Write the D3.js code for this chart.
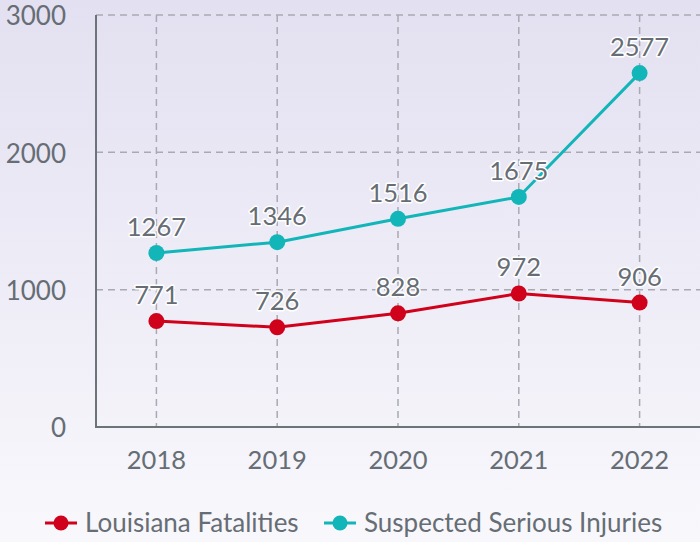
<!DOCTYPE html>
<html>
<head>
<meta charset="utf-8">
<script src="https://cdn.jsdelivr.net/npm/d3@7"></script>
<style>
  body { margin: 0; }
  svg { display: block; font-family: Lato, "Noto Sans", sans-serif; }
</style>
</head>
<body>
<script>
var years = ['2018', '2019', '2020', '2021', '2022'];
var fatalities = [771, 726, 828, 972, 906];
var injuries = [1267, 1346, 1516, 1675, 2577];
var yTicks = [0, 1000, 2000, 3000];
var seriesNames = ['Louisiana Fatalities', 'Suspected Serious Injuries'];
var colors = ['#d0021b', '#12b5b8'];

var W = 700, H = 542;
var svg = d3.select('body').append('svg').attr('width', W).attr('height', H);

// background gradient
var defs = svg.append('defs');
var grad = defs.append('linearGradient').attr('id', 'bg').attr('x1', 0).attr('y1', 0).attr('x2', 0).attr('y2', 1);
grad.append('stop').attr('offset', '0%').attr('stop-color', '#e3e0f1');
grad.append('stop').attr('offset', '100%').attr('stop-color', '#f8f8fc');
svg.append('rect').attr('width', W).attr('height', H).attr('fill', 'url(#bg)');

var x = d3.scaleBand().domain(years).range([96, 700]);
var y = d3.scaleLinear().domain([0, 3000]).range([427, 15]);

// grid
var grid = svg.append('g').attr('stroke', '#a9a9b3').attr('stroke-width', 1.5).attr('stroke-dasharray', '7,5');
grid.selectAll('.h').data(yTicks.filter(function(d){ return d > 0; })).enter().append('line')
  .attr('x1', 96).attr('x2', 700)
  .attr('y1', function(d){ return y(d); }).attr('y2', function(d){ return y(d); });
grid.selectAll('.v').data(years).enter().append('line')
  .attr('x1', function(d){ return x(d) + x.bandwidth() / 2; })
  .attr('x2', function(d){ return x(d) + x.bandwidth() / 2; })
  .attr('y1', 15).attr('y2', 427);

// axes
svg.append('line').attr('x1', 96).attr('x2', 96).attr('y1', 15).attr('y2', 427).attr('stroke', '#6b737b').attr('stroke-width', 2);
svg.append('line').attr('x1', 95).attr('x2', 700).attr('y1', 427).attr('y2', 427).attr('stroke', '#6b737b').attr('stroke-width', 2);

svg.selectAll('.ylab').data(yTicks).enter().append('text')
  .attr('x', 66).attr('y', function(d){ return y(d); }).attr('dy', '0.4em')
  .attr('text-anchor', 'end').attr('font-size', 26).attr('fill', '#666d74')
  .text(function(d){ return d; });

svg.selectAll('.xlab').data(years).enter().append('text')
  .attr('x', function(d){ return x(d) + x.bandwidth() / 2; }).attr('y', 460).attr('dy', '0.35em')
  .attr('text-anchor', 'middle').attr('font-size', 25.5).attr('fill', '#666d74')
  .text(function(d){ return d; });

var line = d3.line()
  .x(function(d, i){ return x(years[i]) + x.bandwidth() / 2; })
  .y(function(d){ return y(d); });

[fatalities, injuries].forEach(function(vals, s){
  var g = svg.append('g');
  g.append('path').attr('d', line(vals)).attr('fill', 'none').attr('stroke', colors[s]).attr('stroke-width', 3);
  g.selectAll('circle').data(vals).enter().append('circle')
    .attr('cx', function(d, i){ return x(years[i]) + x.bandwidth() / 2; })
    .attr('cy', function(d){ return y(d); })
    .attr('r', 8).attr('fill', colors[s]);
  g.selectAll('text').data(vals).enter().append('text')
    .attr('x', function(d, i){ return x(years[i]) + x.bandwidth() / 2; })
    .attr('y', function(d){ return y(d) - 26; }).attr('dy', '0.35em')
    .attr('text-anchor', 'middle').attr('font-size', 25.5).attr('fill', '#666d74')
    .attr('stroke', '#fff').attr('stroke-width', 3).attr('paint-order', 'stroke').attr('stroke-linejoin', 'round')
    .text(function(d){ return d; });
});

// legend
var legX = [45, 324];
seriesNames.forEach(function(name, s){
  var lg = svg.append('g').attr('transform', 'translate(' + legX[s] + ',523)');
  lg.append('line').attr('x1', 0).attr('x2', 32).attr('stroke', colors[s]).attr('stroke-width', 3);
  lg.append('circle').attr('cx', 16).attr('r', 7.5).attr('fill', colors[s]);
  lg.append('text').attr('x', 40).attr('dy', '0.35em').attr('font-size', 26).attr('fill', '#666d74').text(name);
});
</script>
</body>
</html>
